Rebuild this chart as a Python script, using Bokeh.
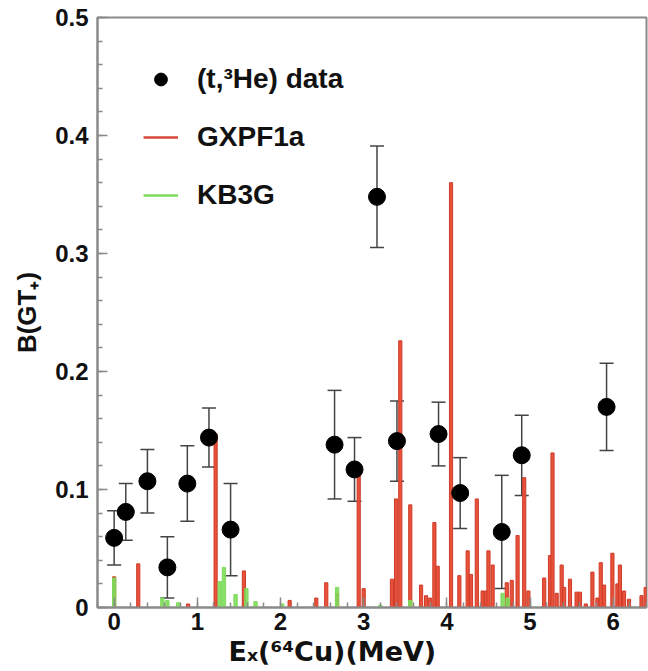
from bokeh.plotting import figure
from bokeh.models import (ColumnDataSource, Whisker, TeeHead, Legend, LegendItem,
                          FixedTicker, Title, Range1d)
from bokeh.embed import file_html
from bokeh.resources import INLINE

# ---------------- data ----------------
data_x = [0.00, 0.14, 0.40, 0.64, 0.88, 1.14, 1.40, 2.65, 2.89, 3.16, 3.40, 3.90, 4.16, 4.66, 4.90, 5.92]
data_y = [0.059, 0.081, 0.107, 0.034, 0.105, 0.144, 0.066, 0.138, 0.117, 0.348, 0.141, 0.147, 0.097, 0.064, 0.129, 0.170]
data_err = [0.023, 0.024, 0.027, 0.026, 0.032, 0.025, 0.039, 0.046, 0.027, 0.043, 0.034, 0.027, 0.030, 0.048, 0.034, 0.037]

gx_x = [0.00, 0.29, 0.89, 1.22, 1.56, 2.11, 2.43, 2.55, 2.68, 2.94, 3.00, 3.34, 3.39, 3.44, 3.56,
        3.69, 3.75, 3.80, 3.85, 3.89, 4.05, 4.15, 4.25, 4.29, 4.36, 4.43, 4.47, 4.50, 4.55, 4.72,
        4.78, 4.85, 4.93, 4.98, 5.17, 5.24, 5.27, 5.32, 5.38, 5.41, 5.48, 5.56, 5.60, 5.67, 5.75,
        5.81, 5.85, 5.89, 5.99, 6.05, 6.08, 6.13, 6.19, 6.34, 6.39]
gx_b = [0.026, 0.037, 0.003, 0.147, 0.031, 0.006, 0.008, 0.021, 0.012, 0.120, 0.016, 0.024, 0.092, 0.226, 0.087,
        0.019, 0.010, 0.008, 0.072, 0.035, 0.360, 0.027, 0.048, 0.028, 0.092, 0.014, 0.014, 0.048, 0.036, 0.021,
        0.023, 0.061, 0.110, 0.014, 0.025, 0.044, 0.131, 0.012, 0.036, 0.017, 0.024, 0.013, 0.013, 0.003, 0.030,
        0.008, 0.038, 0.019, 0.046, 0.020, 0.036, 0.014, 0.007, 0.010, 0.017]

kb_x = [0.00, 0.58, 0.64, 0.77, 1.27, 1.32, 1.46, 1.59, 1.70, 2.02, 2.68, 3.20, 3.56, 4.67, 4.73]
kb_b = [0.025, 0.008, 0.006, 0.004, 0.022, 0.034, 0.011, 0.016, 0.005, 0.003, 0.017, 0.002, 0.006, 0.012, 0.008]

x_ticks = [0, 1, 2, 3, 4, 5, 6]
y_ticks = [0, 0.1, 0.2, 0.3, 0.4, 0.5]

RED = "#e8523a"
RED_EDGE = "#cf3b28"
GREEN = "#7ddc5a"
AXIS = "#8a8a8a"
FONT = "Liberation Sans"
NAN = float("nan")

p = figure(width=648, height=671, output_backend="svg", toolbar_location=None,
           x_range=Range1d(-0.2, 6.4), y_range=Range1d(0, 0.5),
           min_border_left=97, min_border_right=2, min_border_top=17, min_border_bottom=64)
p.background_fill_color = "white"
p.border_fill_color = "white"
p.grid.visible = False
p.outline_line_color = AXIS
p.outline_line_width = 2

gx_src = ColumnDataSource(dict(x=gx_x, top=gx_b))
kb_src = ColumnDataSource(dict(x=kb_x, top=kb_b))
p.vbar(x="x", top="top", width=0.038, bottom=0, source=gx_src,
       fill_color=RED, line_color=RED_EDGE, line_width=1)
p.vbar(x="x", top="top", width=0.04, bottom=0, source=kb_src,
       fill_color=GREEN, line_color=GREEN, line_width=1, fill_alpha=0.9)

d_src = ColumnDataSource(dict(x=data_x, y=data_y,
                              upper=[a + b for a, b in zip(data_y, data_err)],
                              lower=[a - b for a, b in zip(data_y, data_err)]))
wh = Whisker(base="x", upper="upper", lower="lower", source=d_src,
             line_color="#444444", line_width=1.5,
             upper_head=TeeHead(size=14, line_color="#444444", line_width=1.5),
             lower_head=TeeHead(size=14, line_color="#444444", line_width=1.5))
p.add_layout(wh)
pts = p.scatter(x="x", y="y", source=d_src, size=17, color="black")

# legend (line samples only; no visible data)
r_gx = p.line(x=[NAN, NAN], y=[NAN, NAN], line_color="#d9483a", line_width=2.5)
r_kb = p.line(x=[NAN, NAN], y=[NAN, NAN], line_color=GREEN, line_width=2.5)
leg = Legend(items=[LegendItem(label="(t,\u00b3He) data", renderers=[pts]),
                    LegendItem(label="GXPF1a", renderers=[r_gx]),
                    LegendItem(label="KB3G", renderers=[r_kb])],
             location="top_left", margin=3, padding=43,
             glyph_width=35, glyph_height=32, label_height=32, spacing=26,
             label_standoff=19,
             label_text_font=FONT, label_text_font_style="bold",
             label_text_font_size="28px", label_text_color="#111111",
             border_line_alpha=0, background_fill_alpha=0)
p.add_layout(leg)

# axes
for ax in (p.xaxis[0], p.yaxis[0]):
    ax.axis_line_color = AXIS
    ax.axis_line_width = 2
    ax.major_tick_line_color = AXIS
    ax.minor_tick_line_color = AXIS
    ax.major_tick_line_width = 1.5
    ax.minor_tick_line_width = 1.5
    ax.major_tick_in = 10
    ax.major_tick_out = 0
    ax.minor_tick_in = 5
    ax.minor_tick_out = 0
    ax.major_label_text_font = FONT
    ax.major_label_text_font_style = "bold"
    ax.major_label_text_font_size = "24px"
    ax.major_label_text_color = "#111111"

p.xaxis.ticker = FixedTicker(ticks=x_ticks,
                             minor_ticks=[i / 5 for i in range(-1, 33)])
p.yaxis.ticker = FixedTicker(ticks=y_ticks,
                             minor_ticks=[i / 50 for i in range(0, 26)])
p.yaxis.major_label_overrides = {0: "0"}
p.xaxis.major_label_standoff = 5
p.yaxis.major_label_standoff = 9

p.yaxis.axis_label = "B(GT\u208a)"
p.yaxis.axis_label_text_font = FONT
p.yaxis.axis_label_text_font_style = "bold"
p.yaxis.axis_label_text_font_size = "26px"
p.yaxis.axis_label_text_color = "#111111"
p.yaxis.axis_label_standoff = 10

xt = Title(text="E\u2093(\u2076\u2074Cu)(MeV)", align="left", offset=131, standoff=3,
           text_font="DejaVu Sans", text_font_style="bold", text_font_size="27px",
           text_color="#111111")
p.add_layout(xt, "below")

open("out.html", "w").write(file_html(p, INLINE))
